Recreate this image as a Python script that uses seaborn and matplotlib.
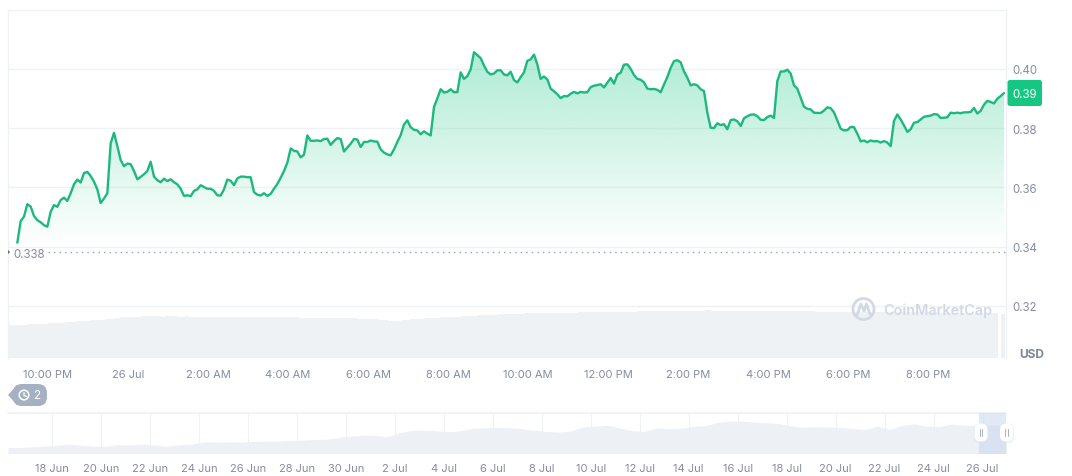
import numpy as np
import pandas as pd
import matplotlib
matplotlib.use("Agg")
import matplotlib.pyplot as plt
import matplotlib.dates as mdates
from matplotlib.patches import FancyBboxPatch, Circle, Polygon
import seaborn as sns

price = [
 .3413,.3486,.3501,.3543,.3535,.3503,.3489,.3482,.3472,.3467,.3517,.3540,.3534,.3557,.3565,.3554,.3580,.3610,.3626,.3616,
 .3648,.3652,.3638,.3619,.3593,.3547,.3562,.3580,.3748,.3784,.3739,.3692,.3671,.3680,.3678,.3655,.3627,.3635,.3644,.3655,
 .3686,.3636,.3624,.3617,.3629,.3621,.3627,.3617,.3610,.3595,.3571,.3573,.3570,.3588,.3593,.3607,.3601,.3595,.3595,.3588,
 .3573,.3572,.3593,.3626,.3622,.3607,.3630,.3636,.3636,.3634,.3634,.3584,.3575,.3572,.3580,.3571,.3578,.3595,.3611,.3632,
 .3655,.3683,.3731,.3723,.3721,.3701,.3710,.3775,.3757,.3757,.3758,.3756,.3763,.3764,.3743,.3756,.3766,.3763,.3721,.3734,
 .3747,.3763,.3761,
 .3736,.3753,.3753,.3758,.3755,.3754,.3728,.3717,.3711,.3708,.3728,.3753,.3776,.3812,.3826,.3803,.3794,.3792,.3779,.3789,
 .3781,.3775,.3871,.3900,.3931,.3920,.3922,.3931,.3921,.3921,.3988,.3966,.3975,.3998,.4056,.4046,.4036,.4011,.3990,.3981,
 .3984,.3995,.3995,.3981,.3978,.3990,.3962,.3954,.3972,.3988,.4027,.4032,.4048,.4015,.3966,.3974,.3964,.3933,.3924,.3914,
 .3901,.3908,.3907,.3916,.3922,.3917,.3922,.3920,.3921,.3938,.3943,.3945,.3948,.3937,.3953,.3969,.3950,.3980,.3987,.4014,
 .4015,.4000,.3979,.3966,.3963,.3954,.3933,.3931,.3932,.3929,.3921,.3947,.3972,.4003,.4026,.4029,.4022,.3991,.3970,.3944,
 .3948,.3944,.3931,.3925,.3852,.3801,.3800,.3816,
 .3810,.3813,.3796,.3827,.3829,.3823,.3807,.3833,.3840,.3845,.3846,.3840,.3828,.3827,.3837,.3842,.3834,.3959,.3991,.3991,
 .3997,.3984,.3944,.3933,.3902,.3872,.3865,.3863,.3852,.3851,.3851,.3859,.3870,.3867,.3853,.3825,.3798,.3792,.3793,.3804,
 .3803,.3781,.3755,.3758,.3752,.3758,.3755,.3756,.3751,.3756,.3751,.3739,.3824,.3846,.3829,.3809,.3787,.3796,.3818,.3820,
 .3829,.3838,.3840,.3842,.3847,.3846,.3834,.3835,.3836,.3852,.3850,.3852,.3850,.3853,.3853,.3854,.3868,.3849,.3858,.3879,
 .3892,.3888,.3883,.3899,.3908,.3918]

volume = [
 33.0,33.0,33.2,33.2,33.4,33.5,33.7,33.8,34.0,34.0,
 34.2,34.4,34.6,34.8,35.0,35.3,35.5,35.8,36.0,36.2,
 36.4,36.7,36.9,37.2,37.4,37.6,38.0,38.2,38.5,38.8,
 39.0,39.5,40.0,40.5,40.8,41.0,41.2,41.4,41.4,41.5,
 41.6,41.6,41.8,41.7,41.6,41.6,41.5,41.6,41.7,41.7,
 41.6,41.5,41.5,41.6,41.4,41.4,41.3,41.4,41.5,41.4,
 41.4,41.3,41.2,41.2,41.3,41.4,41.4,41.3,41.2,41.2,
 41.3,41.4,41.4,41.3,41.2,41.1,41.0,41.1,41.2,41.1,
 41.0,41.0,40.9,40.8,40.7,40.6,40.6,40.5,40.4,40.4,
 40.3,40.4,40.5,40.4,40.3,40.2,40.1,40.2,40.1,40.0,
 40.0,39.9,39.8,39.7,39.6,39.4,39.3,39.2,39.1,38.9,
 38.7,38.4,38.1,37.8,37.5,37.3,37.3,37.5,37.8,38.0,
 38.3,38.6,38.9,39.2,39.5,39.7,39.9,40.1,40.3,40.5,
 40.6,40.8,41.0,41.1,41.3,41.4,41.6,41.8,42.0,42.2,
 42.4,42.6,42.8,43.0,43.1,43.3,43.5,43.7,43.9,44.0,
 44.1,44.2,44.3,44.4,44.5,44.6,44.7,44.8,44.9,45.0,
 45.0,45.1,45.1,45.2,45.2,45.3,45.3,45.4,45.4,45.5,
 45.5,45.6,45.6,45.7,45.7,45.8,45.8,45.9,45.9,46.0,
 46.0,46.1,46.2,46.2,46.3,46.4,46.4,46.5,46.5,46.6,
 46.6,46.7,46.7,46.8,46.8,46.9,46.9,47.0,47.0,47.0,
 47.1,47.1,47.2,47.2,47.3,47.3,47.4,47.5,47.5,47.6,
 47.6,47.5,47.5,47.5,47.4,47.4,47.4,47.3,47.3,47.3,
 47.3,47.3,47.4,47.4,47.4,47.3,47.3,47.4,47.4,47.3,
 47.3,47.2,47.2,47.1,47.1,47.0,46.9,46.9,46.8,46.7,
 46.6,46.6,46.5,46.5,46.4,46.4,46.3,46.2,46.2,46.1,
 46.1,46.0,46.0,46.0,45.9,45.9,45.9,46.0,46.0,46.0,
 46.0,46.0,45.9,45.9,45.9,45.8,45.8,45.8,45.8,45.9,
 45.9,45.9,45.8,45.8,45.7,45.7,45.6,45.6,45.6,45.5,
 45.5,45.4,45.4,45.3,45.3,45.2,45.2,45.1,45.1,45.0,
 45.0,44.9,44.9,44.8,44.8,44.7,44.7,0,44]

history = [
 6,6,6.7,7.3,8.3,9.3,8.3,7.3,7.3,8.7,8.7,9.3,8.3,7.3,8.7,9.3,11.7,11.3,11.7,11.3,12,12.3,12.3,13,13.3,14,14.3,16,17.3,
 18.3,18,16.7,20.7,23.3,23.3,22.7,21.7,22.7,25.3,25.7,26,25.7,24.7,23.3,22,21.3,22.7,26.7,27.3,28.3,25.3,22.7,22,25.7,24.7,25.3,27.3,27.7,
 31.3,32.3,32.3,31.3,30.7,30,27.3,26.3,26.7,26.7,26,25,24,27.3,24,28,29.7,27.3,27,29.3,28.3,28,28.3,28.3,28.3]

price_ticks = [0.32, 0.34, 0.36, 0.38, 0.40]
time_labels = ["10:00 PM", "26 Jul", "2:00 AM", "4:00 AM", "6:00 AM", "8:00 AM", "10:00 AM",
               "12:00 PM", "2:00 PM", "4:00 PM", "6:00 PM", "8:00 PM"]
date_labels = ["18 Jun", "20 Jun", "22 Jun", "24 Jun", "26 Jun", "28 Jun", "30 Jun", "2 Jul", "4 Jul", "6 Jul",
               "8 Jul", "10 Jul", "12 Jul", "14 Jul", "16 Jul", "18 Jul", "20 Jul", "22 Jul", "24 Jul", "26 Jul"]
open_price = 0.338
last_price = "0.39"

GREEN = "#16c784"
LINE = "#1cb97f"
GRID = "#eff2f5"
TXT = "#858ca2"
W, H = 1072, 477

sns.set_theme(style="white")
plt.rcParams["font.family"] = ["Inter", "DejaVu Sans"]

fig = plt.figure(figsize=(W / 100, H / 100), dpi=100, facecolor="white")

def box(x0, y0, x1, y1):
    return [x0 / W, 1 - y1 / H, (x1 - x0) / W, (y1 - y0) / H]

ax = fig.add_axes(box(8, 10.5, 1006, 359))
t_line = pd.date_range("2023-07-25 21:14", periods=len(price), freq="5min")
t_bar = pd.date_range("2023-07-25 21:02:30", periods=len(volume), freq="5min")
t_tick = pd.date_range("2023-07-25 22:00", periods=len(time_labels), freq="2h")
x0, x1 = pd.Timestamp("2023-07-25 21:00"), pd.Timestamp("2023-07-26 21:57")
df = pd.DataFrame({"time": t_line, "price": price})

# volume on its own hidden scale
axv = ax.twinx()
axv.set_ylim(0, 348.5)
axv.bar(t_bar, volume, width=4.85 / 1440, color=GRID, linewidth=0, zorder=1)
axv.set_yticks([])
for s in axv.spines.values():
    s.set_visible(False)
axv.set_zorder(1)
ax.set_zorder(2)
ax.patch.set_visible(False)

poly = ax.fill_between(t_line, price, 0.34, color="none", linewidth=0)
grad = np.zeros((256, 2, 4))
grad[..., :3] = matplotlib.colors.to_rgb(GREEN)
grad[..., 3] = np.linspace(0.343, 0, 256)[:, None]
im = ax.imshow(grad, extent=[mdates.date2num(x0), mdates.date2num(x1), 0.34, 0.406],
               aspect="auto", origin="upper", zorder=2)
im.set_clip_path(poly.get_paths()[0], transform=ax.transData)

sns.lineplot(data=df, x="time", y="price", ax=ax, color=LINE, linewidth=1.7, zorder=4, errorbar=None)
ax.plot([t_tick[0], x1], [open_price, open_price], color="#9aa2b1", lw=1, ls=(0, (1, 3)), zorder=3)

ax.set_xlim(x0, x1)
ax.set_ylim(0.30237, 0.42002)
ax.set_xlabel("")
ax.set_ylabel("")
ax.set_yticks(price_ticks)
ax.set_yticklabels([f"{v:.2f}" for v in price_ticks])
ax.set_xticks(t_tick)
ax.set_xticklabels(time_labels)
ax.yaxis.tick_right()
ax.tick_params(axis="y", length=0, pad=4.5, labelsize=8.3, labelcolor=TXT)
ax.tick_params(axis="x", length=0, pad=8, labelsize=8.0, labelcolor=TXT)
ax.grid(axis="y", color=GRID, lw=1)
ax.set_axisbelow(True)
for k in ["top", "left", "right"]:
    ax.spines[k].set_color(GRID)
    ax.spines[k].set_linewidth(1)
ax.spines["bottom"].set_visible(False)

# history navigator
nav = fig.add_axes(box(8, 413.5, 1006, 454.5))
t_hist = pd.date_range("2023-06-16 04:54", periods=len(history), freq="12h")
t_date = pd.date_range("2023-06-18", periods=len(date_labels), freq="2D")
nav.fill_between(t_hist, history, 0, color="#edf0f4", linewidth=0, zorder=2)
nav.axvspan(pd.Timestamp("2023-07-25 21:00"), pd.Timestamp("2023-07-26 23:00"), color="#c9d7f2", alpha=0.55, lw=0, zorder=3)
nav.set_xlim(pd.Timestamp("2023-06-16 04:54"), pd.Timestamp("2023-07-26 23:00"))
nav.set_ylim(0, 41)
nav.set_yticks([])
nav.set_xticks(t_date)
nav.set_xticklabels(date_labels)
nav.tick_params(axis="x", length=0, pad=6.5, labelsize=8.0, labelcolor=TXT)
nav.grid(axis="x", color=GRID, lw=0.8)
nav.set_axisbelow(True)
for k in ["left", "right", "bottom"]:
    nav.spines[k].set_visible(False)
nav.spines["top"].set_color(GRID)

# page furniture, in pixel coordinates
ov = fig.add_axes([0, 0, 1, 1], facecolor="none")
ov.set_zorder(10)
ov.set_xlim(0, W)
ov.set_ylim(H, 0)
ov.axis("off")
ov.add_patch(FancyBboxPatch((1007.5, 81), 34.5, 26, boxstyle="round,pad=0,rounding_size=2.5", fc=GREEN, lw=0))
ov.text(1025, 94.5, last_price, color="white", fontsize=8.3, ha="center", va="center")
ov.text(13.5, 255.5, f"{open_price:.3f}", color=TXT, fontsize=8.3, ha="left", va="center")
ov.add_patch(Polygon([(8, 251), (10, 253), (8, 255)], fc="#58667e", lw=0))
ov.text(1031.5, 355, "USD", color="#7d8598", fontsize=8.6, fontweight="bold", ha="center", va="center")

# watermark
ov.add_patch(Circle((863.5, 310), 10.5, fc="none", ec="#d3d9e4", lw=2))
ov.plot([857, 861, 864, 866.5, 870], [316, 305, 312, 305, 315], color="#d3d9e4", lw=2, solid_capstyle="round")
ov.text(937.5, 311, "CoinMarketCap", color="#d3d9e4", fontsize=10.4, fontweight="semibold", ha="center", va="center")

# history badge
ov.add_patch(FancyBboxPatch((13, 385), 34, 22, boxstyle="round,pad=0,rounding_size=9", fc="#a6b0c3", lw=0))
ov.add_patch(Polygon([(8, 396), (17, 386), (17, 406)], fc="#a6b0c3", lw=0))
ov.add_patch(Circle((24, 396), 4.8, fc="none", ec="white", lw=1.1))
ov.plot([24, 24, 26.5], [393.5, 396.5, 397.5], color="white", lw=0.9)
ov.text(37, 396.5, "2", color="white", fontsize=8.4, ha="center", va="center")

# range handles
for cx in (981, 1006.5):
    ov.add_patch(FancyBboxPatch((cx - 7.5, 424.5), 15, 19.5, boxstyle="round,pad=0,rounding_size=6",
                                fc="#dfe3ea", ec="none", alpha=0.5, lw=0, zorder=4))
    ov.add_patch(FancyBboxPatch((cx - 6.5, 424.5), 13, 18, boxstyle="round,pad=0,rounding_size=6",
                                fc="white", lw=0, zorder=5))
    ov.plot([cx - 1.3, cx - 1.3], [430, 437], color="#a6b0c3", lw=0.7, zorder=6)
    ov.plot([cx + 1.3, cx + 1.3], [430, 437], color="#a6b0c3", lw=0.7, zorder=6)

fig.savefig("out.png", dpi=100)
